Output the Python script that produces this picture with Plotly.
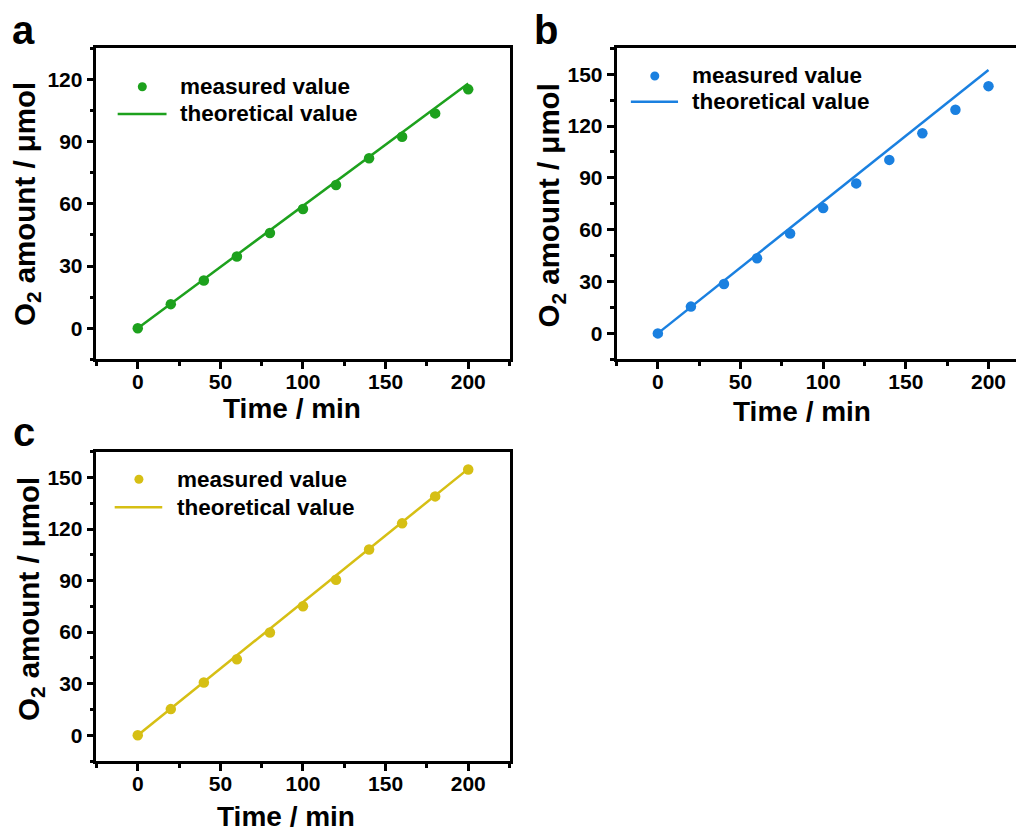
import plotly.graph_objects as go

# ---------------- data ----------------
time_min = [0, 20, 40, 60, 80, 100, 120, 140, 160, 180, 200]
measured_a = [0, 11.6, 23.0, 34.6, 45.9, 57.5, 69.1, 82.0, 92.3, 103.6, 115.2]
measured_b = [0, 15.5, 28.6, 43.5, 57.8, 72.5, 86.8, 100.4, 115.8, 129.4, 143.1]
measured_c = [0, 15.2, 30.7, 44.2, 59.8, 75.1, 90.5, 108.1, 123.3, 139.0, 154.6]
theo_x = [0, 200]
theo_a = [0, 118.0]
theo_b = [0, 152.4]
theo_c = [0, 155.0]
panel_labels = ["a", "b", "c"]
legend_labels = ["measured value", "theoretical value"]
x_title = "Time / min"
y_title = "O<sub>2</sub> amount / μmol"

COL_A = "#1da11d"
COL_B = "#1a80e0"
COL_C = "#d6bf14"

W, H = 1024, 830
OFF = 8  # page body margin
FONT = "Liberation Sans, Arial, sans-serif"


def px(x):
    return (x - OFF) / W


def py(y):
    return 1 - (y - OFF) / H


fig = go.Figure()

panels = [
    # (xaxis, yaxis, measured, theo, color, xdom(px), ydom(px top,bottom), xrange, yrange)
    ("x", "y", measured_a, theo_a, COL_A, (96.7, 511), (48.3, 359.3), [-25, 225], [-15, 135]),
    ("x2", "y2", measured_b, theo_b, COL_B, (618.3, 1032), (48.3, 359.3), [-25, 224.5], [-15, 165]),
    ("x3", "y3", measured_c, theo_c, COL_C, (96.7, 511), (451.7, 761), [-25, 225], [-15, 165]),
]

for i, (xa, ya, meas, theo, col, xd, yd, xr, yr) in enumerate(panels):
    fig.add_trace(go.Scatter(x=theo_x, y=theo, mode="lines", name=legend_labels[1],
                             line=dict(color=col, width=2.5), xaxis=xa, yaxis=ya,
                             showlegend=False))
    fig.add_trace(go.Scatter(x=time_min, y=meas, mode="markers", name=legend_labels[0],
                             marker=dict(color=col, size=10.5), xaxis=xa, yaxis=ya,
                             showlegend=False))
    sfx = "" if i == 0 else str(i + 1)
    common = dict(showline=True, linecolor="black", linewidth=2.5, ticks="outside",
                  ticklen=7, tickwidth=2.5, tickcolor="black", showgrid=False, zeroline=False,
                  mirror=True,
                  tickfont=dict(family=FONT, size=21, color="black", weight="bold"))
    fig.update_layout(**{
        "xaxis" + sfx: dict(domain=[px(xd[0]), min(1.0, px(xd[1]))], range=xr, anchor=ya,
                            tick0=0, dtick=50, ticklabelstandoff=-5,
                            minor=dict(dtick=25, tick0=0, ticks="outside", ticklen=4,
                                       tickwidth=2.5, tickcolor="black"),
                            **common),
        "yaxis" + sfx: dict(domain=[py(yd[1]), py(yd[0])], range=yr, anchor=xa,
                            tick0=0, dtick=30,
                            minor=dict(dtick=15, tick0=0, ticks="outside", ticklen=4,
                                       tickwidth=2.5, tickcolor="black"),
                            **common),
    })

annotations = []
shapes = []

# panel letters
for lab, (x, y) in zip(panel_labels, [(24, 30), (548, 30), (24, 432)]):
    annotations.append(dict(text=lab, x=px(x), y=py(y), xref="paper", yref="paper",
                            xanchor="center", yanchor="middle", showarrow=False, borderpad=0,
                            font=dict(family=FONT, size=40, color="black", weight="bold")))

# axis titles
for (x, y) in [(293, 409), (804, 412), (287, 816)]:
    annotations.append(dict(text=x_title, x=px(x), y=py(y), xref="paper", yref="paper",
                            xanchor="center", yanchor="middle", showarrow=False, borderpad=0,
                            font=dict(family=FONT, size=28, color="black", weight="bold")))
for (x, y) in [(27, 204), (552, 205), (30, 599)]:
    annotations.append(dict(text=y_title, x=px(x), y=py(y), xref="paper", yref="paper",
                            xanchor="center", yanchor="middle", showarrow=False, textangle=-90,
                            font=dict(family=FONT, size=29.5, color="black", weight="bold")))

# legends (marker center, line x0,x1,y, text left x, row y's)
legends = [
    (COL_A, (142.7, 86.7), (118, 167, 114), 178, (87, 114)),
    (COL_B, (656.7, 76), (632.7, 680, 101.7), 691.7, (76, 102)),
    (COL_C, (139.3, 479.3), (115, 162.7, 507.3), 175, (479, 507)),
]
for col, (mx, my), (lx0, lx1, ly), tx, (r1, r2) in legends:
    shapes.append(dict(type="circle", xref="paper", yref="paper", xsizemode="pixel",
                       ysizemode="pixel", xanchor=px(mx), yanchor=py(my),
                       x0=-4.5, x1=4.5, y0=-4.5, y1=4.5, fillcolor=col, line=dict(width=0)))
    shapes.append(dict(type="line", xref="paper", yref="paper", x0=px(lx0), x1=px(lx1),
                       y0=py(ly), y1=py(ly), line=dict(color=col, width=2.5)))
    for txt, ry in zip(legend_labels, (r1, r2)):
        annotations.append(dict(text=txt, x=px(tx), y=py(ry), xref="paper", yref="paper",
                                xanchor="left", yanchor="middle", showarrow=False,
                                font=dict(family=FONT, size=22.5, color="black", weight="bold")))

fig.update_layout(width=W, height=H, margin=dict(l=0, r=0, t=0, b=0),
                  paper_bgcolor="white", plot_bgcolor="white",
                  annotations=annotations, shapes=shapes, showlegend=False)

fig.write_html("out.html")
